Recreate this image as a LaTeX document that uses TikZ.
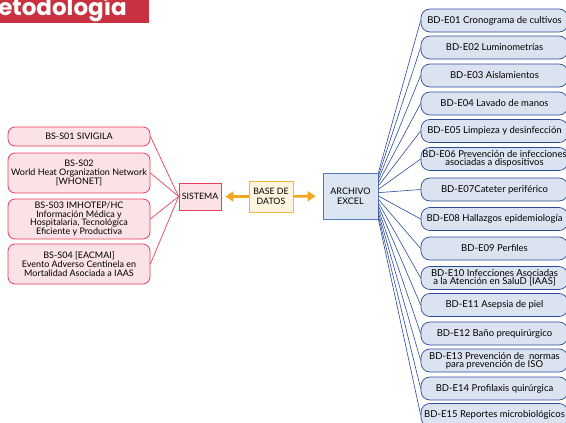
\documentclass[tikz,border=0pt]{standalone}
\usepackage{fontspec}
\setmainfont{Lato}
\newfontfamily\titlefont{Poppins}
\usepackage{tikz}
\usetikzlibrary{arrows.meta, positioning, calc}
\usepackage{xcolor}
\definecolor{bannerred}{RGB}{200,50,64}
\definecolor{pinkfill}{RGB}{251,226,231}
\definecolor{pinkline}{RGB}{232,64,90}
\definecolor{orangearrow}{RGB}{244,166,32}
\definecolor{creamfill}{RGB}{255,244,222}
\definecolor{creamline}{RGB}{246,178,70}
\definecolor{excelfill}{RGB}{220,229,242}
\definecolor{excelline}{RGB}{84,120,190}
\definecolor{bdfill}{RGB}{220,227,240}
\definecolor{bdline}{RGB}{45,75,155}

\tikzset{
  sbox/.style={draw=pinkline, fill=pinkfill, rounded corners=7pt, line width=0.8pt,
    minimum width=142pt, align=center, font=\fontsize{9}{8.8}\selectfont, inner sep=1pt},
  bdbox/.style={draw=bdline, fill=bdfill, rounded corners=9pt, line width=0.7pt,
    minimum width=147pt, minimum height=23pt, align=center,
    font=\fontsize{9.5}{8.3}\selectfont, inner sep=1pt},
  redlink/.style={draw=pinkline, line width=0.7pt},
  bluelink/.style={draw=bdline, line width=0.6pt},
  fatarrow/.style={draw=orangearrow, line width=2.6pt, -{Triangle[length=8pt, width=10pt]}}
}

\begin{document}
\begin{tikzpicture}[x=1pt, y=-1pt]
  \useasboundingbox (0,0) rectangle (566,423);
  \clip (0,0) rectangle (566,423);

  % banner
  \fill[bannerred] (0,-5) rectangle (149,23);
  \node[anchor=base east, text=white, font=\titlefont\bfseries\fontsize{23}{23}\selectfont, inner sep=0pt] (title) at (127,15.5) {Metodología};

  % left side
  \node[sbox, minimum height=19pt] (s1) at (79,136.5) {BS-S01 SIVIGILA};
  \node[sbox, minimum height=40pt] (s2) at (79,173) {BS-S02\\World Heat Organization Network\\{[}WHONET{]}};
  \node[sbox, minimum height=40pt] (s3) at (79,219) {BS-S03 IMHOTEP/HC\\Información Médica y\\Hospitalaria, Tecnológica\\Eficiente y Productiva};
  \node[sbox, minimum height=40pt] (s4) at (79,264) {BS-S04 {[}EACMAI{]}\\Evento Adverso Centinela en\\Mortalidad Asociada a IAAS};

  \node[draw=pinkline, fill=pinkfill, line width=0.8pt, minimum width=42pt, minimum height=27pt, inner sep=1pt, font=\fontsize{8.8}{9}\selectfont] (sistema) at (200,196.5) {SISTEMA};
  \node[draw=creamline, fill=creamfill, line width=0.8pt, minimum width=44pt, minimum height=31pt, inner sep=1pt, align=center, font=\fontsize{8.8}{9.5}\selectfont] (datos) at (271,196.5) {BASE DE\\DATOS};
  \node[draw=excelline, fill=excelfill, line width=0.8pt, minimum width=55pt, minimum height=46pt, inner sep=1pt, align=center, font=\fontsize{9}{10}\selectfont] (archivo) at (350.5,196) {ARCHIVO\\EXCEL};

  \draw[fatarrow, shorten >=4pt] (datos) -- (sistema);
  \draw[fatarrow, shorten >=7pt] (datos) -- (archivo);

  \draw[redlink] (sistema.west) -- (s1.east);
  \draw[redlink] (sistema.west) -- (s2.east);
  \draw[redlink] (sistema.west) -- (s3.east);
  \draw[redlink] (sistema.west) -- (s4.east);

  % right side
  \node[bdbox] (e1) at (494.5,20.5) {BD-E01 Cronograma de cultivos};
  \node[bdbox] (e2) at (494.5,47.5) {BD-E02 Luminometrías};
  \node[bdbox] (e3) at (494.5,75.5) {BD-E03 Aislamientos};
  \node[bdbox] (e4) at (494.5,103.5) {BD-E04 Lavado de manos};
  \node[bdbox] (e5) at (494.5,131) {BD-E05 Limpieza y desinfección};
  \node[bdbox] (e6) at (494.5,159) {BD-E06 Prevención de infecciones\\asociadas a dispositivos};
  \node[bdbox] (e7) at (494.5,189.5) {BD-E07Cateter periférico};
  \node[bdbox] (e8) at (494.5,219) {BD-E08 Hallazgos epidemiología};
  \node[bdbox] (e9) at (494.5,248.5) {BD-E09 Perfiles};
  \node[bdbox] (e10) at (494.5,278) {BD-E10 Infecciones Asociadas\\a la Atención en SaluD {[}IAAS{]}};
  \node[bdbox] (e11) at (494.5,305) {BD-E11 Asepsia de piel};
  \node[bdbox] (e12) at (494.5,333.5) {BD-E12 Baño prequirúrgico};
  \node[bdbox] (e13) at (494.5,360.5) {BD-E13 Prevención de \ normas\\para prevención de ISO};
  \node[bdbox] (e14) at (494.5,388.5) {BD-E14 Profilaxis quirúrgica};
  \node[bdbox] (e15) at (494.5,415) {BD-E15 Reportes microbiológicos};

  \foreach \i in {1,...,15}
    \draw[bluelink] ($(archivo.north east)!{(\i-1)/14}!(archivo.south east)$) -- (e\i.west);
\end{tikzpicture}
\end{document}
